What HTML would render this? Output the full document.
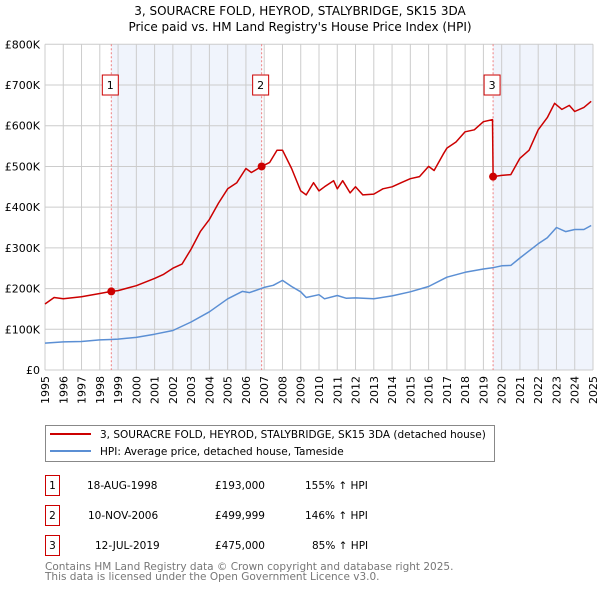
<!DOCTYPE html>
<html><head><meta charset="utf-8"><style>
body{margin:0;background:#fff;font-family:"DejaVu Sans","Liberation Sans",sans-serif;}
svg text{font-family:"DejaVu Sans","Liberation Sans",sans-serif;}
</style></head><body>
<svg id="c" width="600" height="590" viewBox="0 0 600 590">
<text x="300" y="15" text-anchor="middle" font-size="12">3, SOURACRE FOLD, HEYROD, STALYBRIDGE, SK15 3DA</text>
<text x="300" y="31" text-anchor="middle" font-size="12">Price paid vs. HM Land Registry's House Price Index (HPI)</text>
<g id="plot"></g>
<g>
<rect x="45.5" y="425.5" width="449" height="36" fill="#fff" stroke="#888"/>
<line x1="50" y1="434" x2="91" y2="434" stroke="#cc0000" stroke-width="2"/>
<text x="100" y="438" font-size="10.5">3, SOURACRE FOLD, HEYROD, STALYBRIDGE, SK15 3DA (detached house)</text>
<line x1="50" y1="451" x2="91" y2="451" stroke="#5b8fd4" stroke-width="2"/>
<text x="100" y="455" font-size="10.5">HPI: Average price, detached house, Tameside</text>
</g>
<g font-size="10.5">
<rect x="45.5" y="475.5" width="14" height="20" fill="#fff" stroke="#cc0000"/><text x="52.5" y="489" text-anchor="middle">1</text>
<text x="87" y="489">18-AUG-1998</text><text x="265" y="489" text-anchor="end">£193,000</text><text x="305" y="489">155% ↑ HPI</text>
<rect x="45.5" y="505.5" width="14" height="20" fill="#fff" stroke="#cc0000"/><text x="52.5" y="519" text-anchor="middle">2</text>
<text x="88" y="519">10-NOV-2006</text><text x="265" y="519" text-anchor="end">£499,999</text><text x="305" y="519">146% ↑ HPI</text>
<rect x="45.5" y="535.5" width="14" height="20" fill="#fff" stroke="#cc0000"/><text x="52.5" y="549" text-anchor="middle">3</text>
<text x="95" y="549">12-JUL-2019</text><text x="265" y="549" text-anchor="end">£475,000</text><text x="312" y="549">85% ↑ HPI</text>
</g>
<text x="45" y="570" font-size="10.5" fill="#777">Contains HM Land Registry data © Crown copyright and database right 2025.</text>
<text x="45" y="580" font-size="10.5" fill="#777">This data is licensed under the Open Government Licence v3.0.</text>
</svg>
<script>
const yTicks=[0,100,200,300,400,500,600,700,800];
const yTickLabels=["£0","£100K","£200K","£300K","£400K","£500K","£600K","£700K","£800K"];
const years=[1995,1996,1997,1998,1999,2000,2001,2002,2003,2004,2005,2006,2007,2008,2009,2010,2011,2012,2013,2014,2015,2016,2017,2018,2019,2020,2021,2022,2023,2024,2025];
const hpiT=[1995,1996,1997,1998,1998.6,1999,2000,2001,2002,2003,2004,2005,2005.8,2006.2,2007,2007.5,2008,2008.5,2009,2009.3,2010,2010.3,2011,2011.5,2012,2013,2014,2015,2016,2017,2018,2019,2019.5,2020,2020.5,2021,2022,2022.5,2023,2023.5,2024,2024.5,2024.9];
const hpiV=[66,69,70,74,75,76,80,88,97,118,143,175,193,190,203,208,220,205,192,178,185,175,183,176,177,175,182,192,205,228,240,248,251,256,257,275,310,325,350,340,345,345,355];
const priceT=[1995,1995.5,1996,1997,1998,1998.63,1999,2000,2001,2001.5,2002,2002.5,2003,2003.5,2004,2004.5,2005,2005.5,2006,2006.3,2006.86,2007.3,2007.7,2008,2008.5,2009,2009.3,2009.7,2010,2010.3,2010.8,2011,2011.3,2011.7,2012,2012.4,2013,2013.5,2014,2014.5,2015,2015.5,2016,2016.3,2016.8,2017,2017.5,2018,2018.5,2019,2019.5,2019.53,2020,2020.5,2021,2021.5,2022,2022.5,2022.9,2023.3,2023.7,2024,2024.5,2024.9];
const priceV=[162,178,175,180,188,193,195,207,225,235,250,260,297,340,370,410,445,460,495,485,500,510,540,540,495,440,430,460,440,450,465,445,465,435,450,430,432,445,450,460,470,475,500,490,530,545,560,585,590,610,615,475,478,480,520,540,590,620,655,640,650,635,645,660];
const saleT=[1998.63,2006.86,2019.53];
const saleV=[193,499.999,475];
const saleLabels=["1","2","3"];
const X0=45,X1=593,Y0=370,Y1=44.3;
const x=t=>X0+(t-1995)/(2025-1995)*(X1-X0);
const y=v=>Y0-v/800*(Y0-Y1);
const NS="http://www.w3.org/2000/svg";
const g=document.getElementById('plot');
function mk(tag,attrs,parent){const e=document.createElementNS(NS,tag);for(const k in attrs)e.setAttribute(k,attrs[k]);(parent||g).appendChild(e);return e;}
let s1=mk('rect',{x:x(saleT[0]),y:Y1,width:x(saleT[1])-x(saleT[0]),height:Y0-Y1,fill:'#f0f4fc'});


let s2=mk('rect',{x:x(saleT[2]),y:Y1,width:X1-x(saleT[2]),height:Y0-Y1,fill:'#f0f4fc'});


years.forEach(yr=>{
 let l=mk('line',{x1:x(yr),x2:x(yr),y1:Y1,y2:Y0,stroke:'#cccccc','stroke-width':1});
 
 
 let t=mk('text',{x:0,y:0,'font-size':11,'text-anchor':'end',transform:`translate(${x(yr)+4},${Y0+6}) rotate(-90)`});
 t.textContent=yr;
 
 
});
yTicks.forEach((v,i)=>{
 let l=mk('line',{x1:X0,x2:X1,y1:y(v),y2:y(v),stroke:'#cccccc','stroke-width':1});
 
 
 let t=mk('text',{x:X0-5,y:y(v)+4,'font-size':11,'text-anchor':'end'});
 t.textContent=yTickLabels[i];
 
 
});
saleT.forEach((t,i)=>{
 let l=mk('line',{x1:x(t),x2:x(t),y1:Y1,y2:Y0,stroke:'#f08080','stroke-width':1,'stroke-dasharray':'2,2'});
 
 
 let r=mk('rect',{x:x(t)-9,y:y(700)-10,width:16,height:20,fill:'#fff',stroke:'#cc0000'});
 
 
 let tx=mk('text',{x:x(t)-1,y:y(700)+4,'font-size':11,'text-anchor':'middle'});
 tx.textContent=saleLabels[i];
 
 
});
function line(T,V,col,name){
 const d=T.map((t,i)=>(i?'L':'M')+x(t).toFixed(1)+','+y(V[i]).toFixed(1)).join('');
 let p=mk('path',{d:d,fill:'none',stroke:col,'stroke-width':1.5,'stroke-linejoin':'round'});
 
 
}
line(hpiT,hpiV,'#5b8fd4','hpi-line');
line(priceT,priceV,'#cc0000','price-line');
saleT.forEach((t,i)=>{
 let c=mk('circle',{cx:x(t),cy:y(saleV[i]),r:4,fill:'#cc0000'});
 
 
});
</script>
</body></html>
